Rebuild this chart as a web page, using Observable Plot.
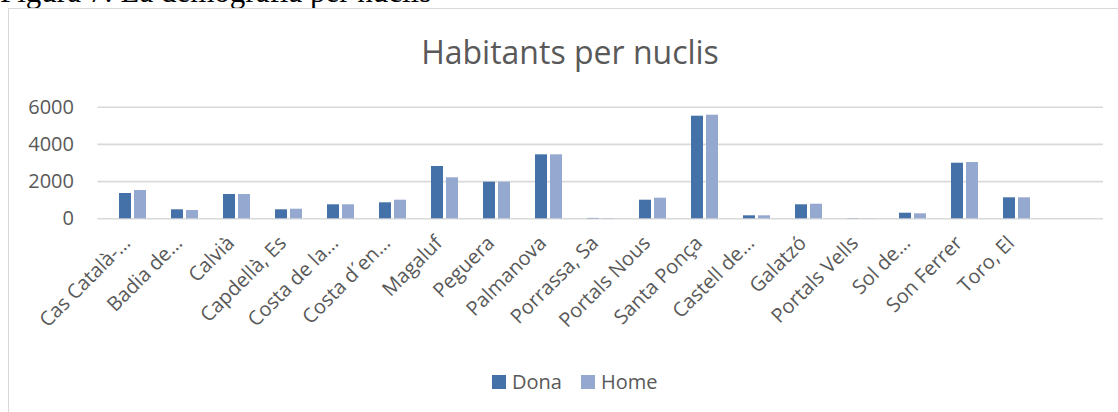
<!DOCTYPE html>
<html>
<head>
<meta charset="utf-8">
<script src="https://cdn.jsdelivr.net/npm/d3@7"></script>
<script src="https://cdn.jsdelivr.net/npm/@observablehq/plot@0.6"></script>
<style>
  html, body { margin: 0; padding: 0; width: 1118px; height: 412px; overflow: hidden; background: #fff; }
  #page { position: relative; width: 1118px; height: 412px; }
  #fig { position: absolute; left: 0; top: -23px; font-family: "Liberation Serif", serif; font-size: 31px; color: #000; white-space: nowrap; line-height: 30px; }
  #box { position: absolute; left: 8px; top: 8px; width: 1200px; height: 500px; border-left: 1.5px solid #d9d9d9; border-top: 1.5px solid #d9d9d9; }
  #chart { position: absolute; left: 0; top: 0; }
  #title { position: absolute; left: 0; width: 1140px; top: 30px; text-align: center; font-family: "Open Sans", sans-serif; font-size: 32px; color: #595959; line-height: 44px; white-space: nowrap; }
  #legend { position: absolute; top: 368px; left: 492px; font-family: "Open Sans", sans-serif; font-size: 20px; color: #595959; display: flex; align-items: center; line-height: 28px; }
  .sw { display: inline-block; width: 14px; height: 14px; margin-right: 6px; }
  .item { display: flex; align-items: center; margin-right: 19px; }
</style>
</head>
<body>
<div id="page">
  <div id="fig">Figura 7: La demografia per nuclis</div>
  <div id="box"></div>
  <div id="chart"></div>
  <div id="title">Habitants per nuclis</div>
  <div id="legend"></div>
</div>
<script>
const categories = ["Cas Català-…", "Badia de…", "Calvià", "Capdellà, Es", "Costa de la…", "Costa d´en…", "Magaluf", "Peguera", "Palmanova", "Porrassa, Sa", "Portals Nous", "Santa Ponça", "Castell de…", "Galatzó", "Portals Vells", "Sol de…", "Son Ferrer", "Toro, El"];
const dona = [1360, 484, 1306, 484, 753, 860, 2812, 1968, 3440, 20, 1000, 5516, 161, 753, 10, 301, 2989, 1129];
const home = [1522, 446, 1306, 516, 753, 1000, 2204, 1968, 3440, 15, 1107, 5570, 161, 785, 10, 269, 3027, 1129];
const yTicks = [0, 2000, 4000, 6000];
const seriesNames = ["Dona", "Home"];
const seriesColors = ["#4472a8", "#95a9d0"];

const rows = categories.map((c, i) => ({cat: c, dona: dona[i], home: home[i]}));

const chart = Plot.plot({
  width: 1118,
  height: 412,
  marginLeft: 97.5,
  marginRight: 15,
  marginTop: 106.7,
  marginBottom: 193.7,
  style: {fontFamily: "Open Sans, sans-serif", color: "#595959", background: "transparent"},
  x: {type: "band", domain: categories, range: [97.5, 1050.5], paddingInner: 0.49, paddingOuter: 0.245, align: 0.5},
  y: {domain: [0, 6000]},
  marks: [
    Plot.ruleY(yTicks, {stroke: "#d9d9d9", strokeWidth: 1.6}),
    Plot.barY(rows, {x: "cat", y: "dona", fill: seriesColors[0], insetLeft: 0, insetRight: 15}),
    Plot.barY(rows, {x: "cat", y: "home", fill: seriesColors[1], insetLeft: 15, insetRight: 0}),
    Plot.axisY({ticks: yTicks, tickSize: 0, tickPadding: 24, fontSize: 20, label: null, tickFormat: d => String(d)}),
    Plot.axisX({tickRotate: -45, tickSize: 0, tickPadding: 21, dx: -6, fontSize: 20, label: null, lineAnchor: "middle"})
  ]
});
document.getElementById("chart").appendChild(chart);

const legend = document.getElementById("legend");
seriesNames.forEach((n, i) => {
  const item = document.createElement("span");
  item.className = "item";
  const sw = document.createElement("span");
  sw.className = "sw";
  sw.style.background = seriesColors[i];
  item.appendChild(sw);
  item.appendChild(document.createTextNode(n));
  legend.appendChild(item);
});
</script>
</body>
</html>
